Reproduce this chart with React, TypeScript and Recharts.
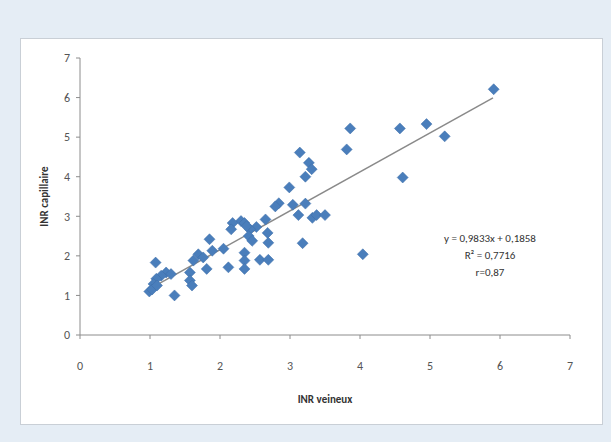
import React from "react";
import {
  ScatterChart,
  Scatter,
  XAxis,
  YAxis,
  Label,
} from "recharts";

const inrVeineux = [
  5.91, 4.57, 4.95, 5.21, 4.61, 3.86, 3.81, 4.04, 3.14, 3.27, 3.31, 3.22,
  2.99, 2.84, 2.79, 3.04, 3.22, 3.12, 3.32, 3.38, 3.5, 3.18, 2.65, 2.52,
  2.68, 2.69, 2.57, 2.69, 2.43, 2.41, 2.46, 2.3, 2.35, 2.38, 2.18, 2.16,
  2.35, 2.35, 2.35, 2.12, 2.05, 1.85, 1.89, 1.69, 1.76, 1.62, 1.81, 1.57,
  1.57, 1.6, 1.35, 1.08, 1.23, 1.3, 1.16, 1.09, 1.05, 0.99, 1.03, 1.1,
];

const inrCapillaire = [
  6.21, 5.22, 5.33, 5.02, 3.98, 5.22, 4.69, 2.04, 4.61, 4.35, 4.19, 4.0,
  3.73, 3.33, 3.25, 3.29, 3.32, 3.03, 2.96, 3.03, 3.03, 2.32, 2.92, 2.73,
  2.58, 2.33, 1.9, 1.9, 2.67, 2.5, 2.38, 2.88, 2.83, 2.75, 2.83, 2.67,
  2.08, 1.88, 1.67, 1.71, 2.18, 2.42, 2.13, 2.04, 1.96, 1.88, 1.67, 1.58,
  1.38, 1.25, 1.0, 1.83, 1.58, 1.54, 1.5, 1.42, 1.29, 1.1, 1.15, 1.25,
];

// trendline end points
const trendX = [1.0, 5.9];
const trendY = [1.17, 5.99];

const ticks = [0, 1, 2, 3, 4, 5, 6, 7];

const equationLines = ["y = 0,9833x + 0,1858", "R² = 0,7716", "r=0,87"];

const points = inrVeineux.map((x, i) => ({ x, y: inrCapillaire[i] }));
const trend = trendX.map((x, i) => ({ x, y: trendY[i] }));

const font = "Calibri, Carlito, 'Liberation Sans Narrow', 'Liberation Sans', Arial, sans-serif";

// Excel-style square diamond marker
const Diamond = (props: any) => {
  const { cx, cy } = props;
  if (cx == null || cy == null) return null;
  const r = 5.5;
  return (
    <polygon
      points={`${cx},${cy - r} ${cx + r},${cy} ${cx},${cy + r} ${cx - r},${cy}`}
      fill="#4a7ebb"
      stroke="#3f6fa8"
      strokeWidth={0.5}
    />
  );
};

export default function App() {
  return (
    <div
      style={{
        position: "absolute",
        left: 0,
        top: 0,
        width: 611,
        height: 442,
        background: "#e5edf5",
        fontFamily: font,
        overflow: "hidden",
      }}
    >
      <div
        style={{
          position: "absolute",
          left: 20,
          top: 38,
          width: 583,
          height: 387,
          background: "#ffffff",
          border: "1px solid #c9cfd6",
          boxSizing: "border-box",
        }}
      />
      <div style={{ position: "absolute", left: 0, top: 0 }}>
        <ScatterChart
          width={611}
          height={442}
          margin={{ top: 58, right: 41, bottom: 77, left: 40 }}
        >
          <XAxis
            type="number"
            dataKey="x"
            domain={[0, 7]}
            ticks={ticks}
            height={30}
            stroke="#8c8c8c"
            tickSize={4}
            tickMargin={22}
            tick={{ fill: "#555", fontSize: 12, fontFamily: font }}
          >
            <Label
              value="INR veineux"
              position="bottom"
              offset={30}
              style={{ fill: "#333", fontSize: 11, fontWeight: "bold", fontFamily: font }}
            />
          </XAxis>
          <YAxis
            type="number"
            dataKey="y"
            domain={[0, 7]}
            ticks={ticks}
            width={40}
            stroke="#8c8c8c"
            tickSize={4}
            tickMargin={6}
            tick={{ fill: "#555", fontSize: 12, fontFamily: font }}
          >
            <Label
              value="INR capillaire"
              angle={-90}
              position="insideLeft"
              offset={0}
              dx={4}
              style={{ fill: "#333", fontSize: 11, fontWeight: "bold", fontFamily: font, textAnchor: "middle" }}
            />
          </YAxis>
          <Scatter
            data={trend}
            line={{ stroke: "#8a8a8a", strokeWidth: 1.5 }}
            shape={() => null}
            isAnimationActive={false}
          />
          <Scatter
            data={points}
            shape={<Diamond />}
            isAnimationActive={false}
          />
        </ScatterChart>
      </div>
      <div
        style={{
          position: "absolute",
          left: 430,
          top: 230,
          width: 120,
          textAlign: "center",
          fontSize: 11,
          lineHeight: "17px",
          color: "#333",
        }}
      >
        {equationLines.map((t) => (
          <div key={t}>{t}</div>
        ))}
      </div>
    </div>
  );
}
